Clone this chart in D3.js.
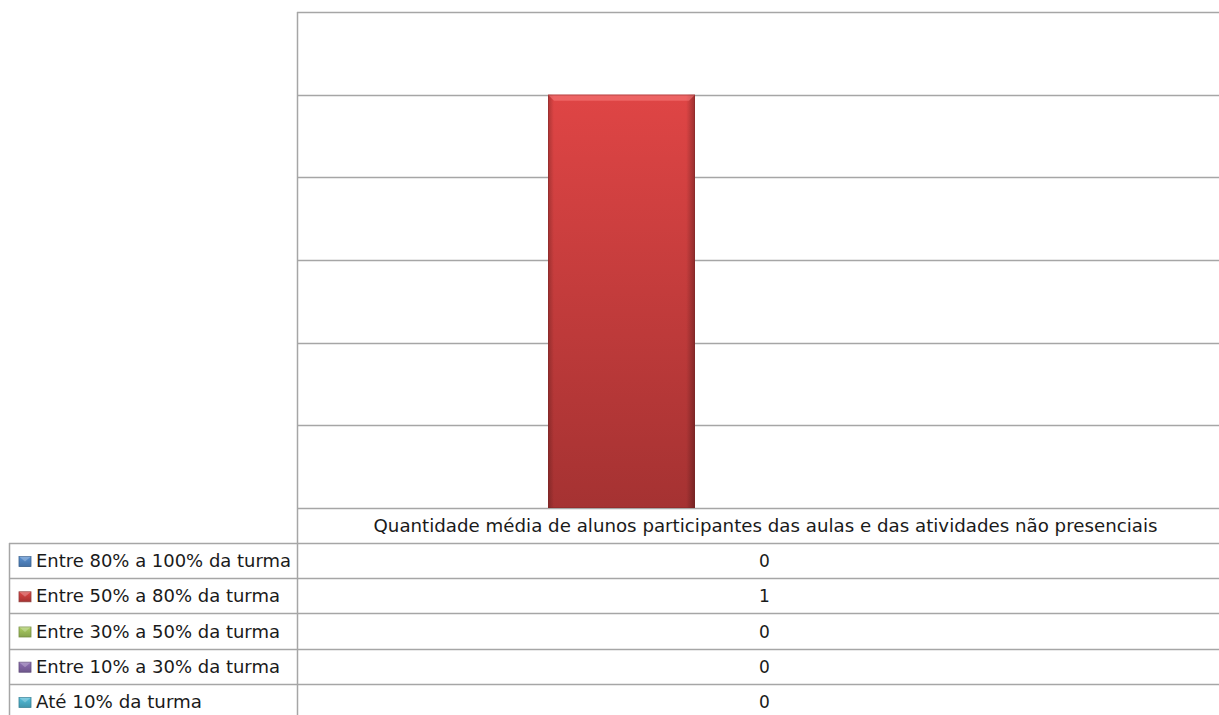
<!DOCTYPE html>
<html><head><meta charset="utf-8">
<script src="https://cdn.jsdelivr.net/npm/d3@7"></script>
<style>html,body{margin:0;padding:0;background:#fff;overflow:hidden}svg{display:block}</style>
</head><body>
<svg id="c" width="1219" height="715"></svg>
<script>
const categories = ["Quantidade média de alunos participantes das aulas e das atividades não presenciais"];
const seriesNames = ["Entre 80% a 100% da turma","Entre 50% a 80% da turma","Entre 30% a 50% da turma","Entre 10% a 30% da turma","Até 10% da turma"];
const seriesValues = [0, 1, 0, 0, 0];
const seriesColors = ["#4F81BD","#C0504D","#9BBB59","#8064A2","#4BACC6"];
const yTicks = [0, 0.2, 0.4, 0.6, 0.8, 1.0, 1.2];

const svg = d3.select("#c");
const plot = {left: 297, right: 1240, top: 12, bottom: 508};
const tbl = {left: 9, headerBottom: 543, rowH: 35.2};
const font = "Tahoma, 'DejaVu Sans', Verdana, sans-serif";
const gridCol = "#a6a6a6";
const textCol = "#1a1a1a";

const x0 = d3.scaleBand().domain(categories).range([plot.left, plot.right]).paddingInner(0).paddingOuter(0);
const x1 = d3.scaleBand().domain(seriesNames).range([0, x0.bandwidth()]).paddingInner(0).paddingOuter(0.7075);
const y = d3.scaleLinear().domain([0, 1.2]).range([plot.bottom, plot.top]);

const defs = svg.append("defs");
seriesColors.forEach((c, i) => {
  const base = d3.color(c);
  const g = defs.append("linearGradient").attr("id", "gv" + i).attr("x1", 0).attr("y1", 0).attr("x2", 0).attr("y2", 1);
  g.append("stop").attr("offset", "0%").attr("stop-color", i === 1 ? "#df4545" : base.brighter(0.3));
  g.append("stop").attr("offset", "100%").attr("stop-color", i === 1 ? "#a53232" : base.darker(0.4));
  const h = defs.append("linearGradient").attr("id", "gh" + i).attr("x1", 0).attr("y1", 0).attr("x2", 1).attr("y2", 0);
  h.append("stop").attr("offset", "0%").attr("stop-color", "#000").attr("stop-opacity", 0.22);
  h.append("stop").attr("offset", "4%").attr("stop-color", "#000").attr("stop-opacity", 0);
  h.append("stop").attr("offset", "94%").attr("stop-color", "#000").attr("stop-opacity", 0);
  h.append("stop").attr("offset", "100%").attr("stop-color", "#000").attr("stop-opacity", 0.3);
});

// gridlines
const gridG = svg.append("g");
gridG.selectAll("line").data(yTicks).join("line")
  .attr("x1", plot.left).attr("x2", plot.right)
  .attr("y1", d => Math.round(y(d)) + 0.5).attr("y2", d => Math.round(y(d)) + 0.5)
  .attr("stroke", gridCol).attr("stroke-width", 1.5);
// plot left border
svg.append("line").attr("x1", plot.left + 0.5).attr("x2", plot.left + 0.5)
  .attr("y1", plot.top).attr("y2", tbl.headerBottom + tbl.rowH * 5 + 5)
  .attr("stroke", gridCol).attr("stroke-width", 1.5);

// bars
const barsG = svg.append("g");
categories.forEach(cat => {
  seriesNames.forEach((s, i) => {
    const v = seriesValues[i];
    if (v <= 0) return;
    const bx = x0(cat) + x1(s), bw = x1.bandwidth();
    const by = y(v), bh = y(0) - y(v);
    barsG.append("rect").attr("x", bx).attr("y", by).attr("width", bw).attr("height", bh).attr("fill", `url(#gv${i})`);
    barsG.append("rect").attr("x", bx).attr("y", by).attr("width", bw).attr("height", bh).attr("fill", `url(#gh${i})`);
    barsG.append("polygon")
      .attr("points", `${bx},${by} ${bx + bw},${by} ${bx + bw - 6},${by + 6} ${bx + 6},${by + 6}`)
      .attr("fill", "#ff8a8a").attr("opacity", 0.45);
    barsG.append("rect").attr("x", bx + 0.5).attr("y", by + 0.5).attr("width", bw - 1).attr("height", bh - 1)
      .attr("fill", "none").attr("stroke", "#7a2626").attr("stroke-opacity", 0.35);
  });
});

// data table
const tG = svg.append("g");
categories.forEach(cat => {
  tG.append("text").attr("x", x0(cat) + x0.bandwidth() / 2 - 3).attr("y", (plot.bottom + tbl.headerBottom) / 2 + 6)
    .attr("text-anchor", "middle").attr("font-family", font).attr("font-size", 18).attr("fill", textCol)
    .attr("textLength", 784).attr("lengthAdjust", "spacingAndGlyphs")
    .text(cat);
});
const rowLines = d3.range(0, 6).map(k => tbl.headerBottom + k * tbl.rowH);
tG.selectAll("line.rl").data(rowLines).join("line").attr("class", "rl")
  .attr("x1", tbl.left).attr("x2", plot.right)
  .attr("y1", d => Math.round(d) + 0.5).attr("y2", d => Math.round(d) + 0.5)
  .attr("stroke", gridCol).attr("stroke-width", 1.5);
tG.append("line").attr("x1", tbl.left + 0.5).attr("x2", tbl.left + 0.5)
  .attr("y1", tbl.headerBottom).attr("y2", 715).attr("stroke", gridCol).attr("stroke-width", 1.5);

const legendWidths = [255, 244, 244, 244, 166];
seriesNames.forEach((s, i) => {
  const cy = tbl.headerBottom + i * tbl.rowH + tbl.rowH / 2;
  const kx = 19, kw = 12, kh = 10;
  tG.append("rect").attr("x", kx).attr("y", cy - kh / 2 + 1).attr("width", kw).attr("height", kh)
    .attr("fill", `url(#gv${i})`).attr("stroke", d3.color(seriesColors[i]).darker(0.8)).attr("stroke-width", 0.8);
  tG.append("polygon").attr("points", `${kx},${cy - kh / 2 + 1} ${kx + kw},${cy - kh / 2 + 1} ${kx + kw / 2},${cy + 1}`)
    .attr("fill", "#fff").attr("opacity", 0.25);
  tG.append("text").attr("x", 36).attr("y", cy + 6.5).attr("font-family", font).attr("font-size", 17).attr("fill", textCol)
    .attr("textLength", legendWidths[i]).attr("lengthAdjust", "spacingAndGlyphs")
    .text(s);
  categories.forEach(cat => {
    tG.append("text").attr("x", x0(cat) + x0.bandwidth() / 2 - 4).attr("y", cy + 6.5).attr("text-anchor", "middle")
      .attr("font-family", font).attr("font-size", 17).attr("fill", textCol).text(seriesValues[i]);
  });
});
</script>
</body></html>
